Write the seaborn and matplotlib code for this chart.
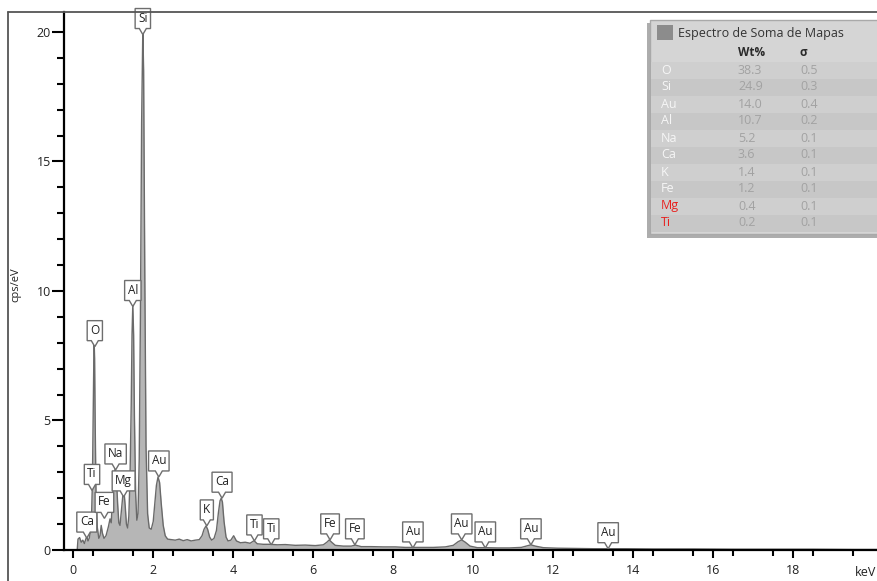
import numpy as np
import pandas as pd
import matplotlib
matplotlib.use("Agg")
import matplotlib.pyplot as plt
import seaborn as sns
import matplotlib.transforms as mtransforms
from matplotlib.patches import Rectangle, Polygon
from matplotlib.lines import Line2D
from matplotlib.ticker import FixedLocator

# ---------------- data ----------------
energy_kev = [0.10, 0.12, 0.16, 0.20, 0.24, 0.28, 0.31, 0.34, 0.37, 0.40, 0.43, 0.46, 0.48, 0.50,
              0.515, 0.525, 0.535, 0.55, 0.57, 0.60, 0.64, 0.67, 0.70, 0.73, 0.77, 0.82, 0.88,
              0.92, 0.95, 0.98, 1.02, 1.05, 1.08, 1.11, 1.14, 1.17, 1.21, 1.24, 1.27, 1.30,
              1.33, 1.36, 1.39, 1.42, 1.45, 1.47, 1.49, 1.51, 1.53, 1.56, 1.59, 1.62, 1.65,
              1.68, 1.71, 1.74, 1.76, 1.79, 1.82, 1.86, 1.90, 1.95, 2.00, 2.04, 2.08, 2.12,
              2.16, 2.20, 2.25, 2.30, 2.36, 2.45, 2.55, 2.65, 2.75, 2.85, 2.95, 3.05, 3.15,
              3.22, 3.27, 3.32, 3.36, 3.41, 3.46, 3.52, 3.58, 3.63, 3.67, 3.70, 3.73, 3.77,
              3.82, 3.87, 3.94, 4.01, 4.08, 4.18, 4.30, 4.42, 4.52, 4.60, 4.75, 4.94, 5.10,
              5.30, 5.55, 5.80, 6.05, 6.25, 6.34, 6.40, 6.46, 6.55, 6.75, 6.95, 7.05, 7.20,
              7.45, 7.75, 8.05, 8.30, 8.49, 8.70, 9.00, 9.30, 9.50, 9.62, 9.71, 9.80, 9.92,
              10.10, 10.30, 10.60, 10.90, 11.20, 11.35, 11.44, 11.55, 11.75, 12.10, 12.50,
              13.00, 13.38, 13.80, 14.50, 15.50, 16.50, 17.50, 18.50, 19.50, 20.10]
counts_cps = [0.00, 0.42, 0.48, 0.30, 0.38, 0.25, 0.40, 0.52, 0.35, 0.45, 0.70, 1.40, 2.60, 5.20,
              7.30, 7.95, 7.40, 4.80, 2.20, 0.90, 0.45, 0.55, 0.95, 0.65, 0.45, 0.55, 0.90,
              1.20, 1.05, 1.90, 2.90, 3.15, 2.80, 1.80, 1.05, 0.95, 1.60, 2.10, 2.25, 1.70,
              1.00, 0.85, 1.30, 2.80, 5.60, 8.30, 9.50, 8.30, 5.20, 2.20, 1.15, 1.40, 3.50,
              9.00, 16.50, 20.10, 18.50, 10.50, 4.00, 1.40, 0.85, 0.80, 1.10, 1.80, 2.50, 2.82,
              2.60, 1.80, 0.95, 0.55, 0.42, 0.40, 0.38, 0.42, 0.36, 0.40, 0.35, 0.38, 0.40,
              0.55, 0.80, 0.93, 0.80, 0.50, 0.38, 0.45, 0.75, 1.45, 1.90, 2.00, 1.85, 1.10,
              0.50, 0.35, 0.38, 0.55, 0.35, 0.28, 0.30, 0.26, 0.36, 0.24, 0.22, 0.22, 0.20,
              0.21, 0.18, 0.19, 0.17, 0.20, 0.30, 0.39, 0.30, 0.18, 0.15, 0.15, 0.19, 0.13,
              0.13, 0.12, 0.12, 0.10, 0.10, 0.10, 0.10, 0.12, 0.18, 0.32, 0.39, 0.30, 0.15,
              0.09, 0.09, 0.08, 0.08, 0.10, 0.16, 0.20, 0.15, 0.09, 0.07, 0.06,
              0.05, 0.05, 0.05, 0.04, 0.04, 0.03, 0.03, 0.03, 0.02, 0.02]

peak_labels = ["Ca", "Ti", "Fe", "O", "Na", "Mg", "Al", "Si", "Au", "K", "Ca", "Ti", "Ti",
               "Fe", "Fe", "Au", "Au", "Au", "Au", "Au"]
peak_energy = [0.34, 0.47, 0.78, 0.54, 1.06, 1.26, 1.49, 1.74, 2.14, 3.34, 3.72, 4.53, 4.95,
               6.42, 7.04, 8.49, 9.71, 10.30, 11.44, 13.37]
peak_tip = [0.46, 2.30, 1.22, 7.85, 3.09, 2.05, 9.40, 19.9, 2.82, 0.93, 2.00, 0.35, 0.20,
            0.39, 0.20, 0.08, 0.39, 0.08, 0.20, 0.05]

legend_title = "Espectro de Soma de Mapas"
elements = ["O", "Si", "Au", "Al", "Na", "Ca", "K", "Fe", "Mg", "Ti"]
wt_percent = ["38.3", "24.9", "14.0", "10.7", "5.2", "3.6", "1.4", "1.2", "0.4", "0.2"]
sigma = ["0.5", "0.3", "0.4", "0.2", "0.1", "0.1", "0.1", "0.1", "0.1", "0.1"]
flagged = ["Mg", "Ti"]

x_major = [0, 2, 4, 6, 8, 10, 12, 14, 16, 18]
x_minor = list(np.arange(0.5, 20.0, 1.0))
y_major = [0, 5, 10, 15, 20]
y_minor = list(range(0, 21))

# ---------------- style ----------------
sns.set_style("white")
plt.rcParams["font.family"] = ["Open Sans", "DejaVu Sans"]

W, H = 877, 581
fig = plt.figure(figsize=(W / 100, H / 100), dpi=100)
pix = mtransforms.Affine2D().scale(1, -1).translate(0, H)  # top-left pixel coords

ax = fig.add_axes([64 / W, 1 - 550 / H, (877 - 64) / W, (550 - 12) / H])
ax.set_facecolor("white")

df = pd.DataFrame({"energy": energy_kev, "cps": counts_cps})
ax.fill_between(df["energy"], 0, df["cps"], color="#b6b6b6", lw=0, zorder=1)
sns.lineplot(data=df, x="energy", y="cps", ax=ax, color="#6a6a6a", linewidth=1.0,
             sort=False, estimator=None, zorder=2)

ax.set_xlim(-0.23, 20.09)
ax.set_ylim(0, 20.77)

for s in ["top", "right"]:
    ax.spines[s].set_visible(False)
for s in ["left", "bottom"]:
    ax.spines[s].set_color("black")
    ax.spines[s].set_linewidth(1.6)

ax.xaxis.set_major_locator(FixedLocator(x_major))
ax.xaxis.set_minor_locator(FixedLocator(x_minor))
ax.yaxis.set_major_locator(FixedLocator(y_major))
ax.yaxis.set_minor_locator(FixedLocator(y_minor))
ax.tick_params(axis="x", which="major", direction="out", length=6, width=1.5, pad=4,
               labelsize=9, labelcolor="#222222", color="black", bottom=True)
ax.tick_params(axis="x", which="minor", direction="out", length=4, width=1.5,
               color="black", bottom=True)
ax.tick_params(axis="y", which="major", direction="out", length=8.5, width=1.5, pad=1,
               labelsize=9, labelcolor="#222222", color="black", left=True)
ax.tick_params(axis="y", which="minor", direction="out", length=5, width=1.5,
               color="black", left=True)
ax.grid(False)

ax.set_xlabel("")
ax.set_ylabel("cps/eV", fontsize=8, color="#222222")
ax.yaxis.set_label_coords((21 - 64) / 813, (550 - 285) / 538)

ax.text(876, 573, "keV", fontsize=9, color="#222222", ha="right", va="center",
        transform=pix, clip_on=False)

# ---------------- peak callouts ----------------
renderer = fig.canvas.get_renderer()
ident = mtransforms.IdentityTransform()
for name, e, tip in zip(peak_labels, peak_energy, peak_tip):
    px, py = ax.transData.transform((e, tip))
    gap, bh = 6.0, 20.0
    t = ax.text(px, py + gap + bh / 2 + 0.5, name, transform=ident, ha="center", va="center",
                fontsize=8.5, color="#222222", zorder=7, clip_on=False)
    tw = t.get_window_extent(renderer).width
    bw = tw + 6
    verts = [(px - bw / 2, py + gap), (px - 3.5, py + gap), (px, py), (px + 3.5, py + gap),
             (px + bw / 2, py + gap), (px + bw / 2, py + gap + bh), (px - bw / 2, py + gap + bh)]
    poly = Polygon(verts, closed=True, transform=ident, facecolor="white", edgecolor="#6e6e6e",
                   linewidth=1.0, zorder=6, clip_on=False)
    ax.add_artist(poly)

# ---------------- outer frame ----------------
fig.add_artist(Line2D([8, 877], [12, 12], transform=pix, color="#555555", lw=1.3))
fig.add_artist(Line2D([8, 8], [12, 581], transform=pix, color="#555555", lw=1.3))

# ---------------- legend panel ----------------
fig.add_artist(Rectangle((647, 23), 240, 215, transform=pix, facecolor="#8a8a8a",
                         edgecolor="none", alpha=0.7, zorder=10))
fig.add_artist(Rectangle((650, 20), 240, 214, transform=pix, facecolor="#d5d5d5",
                         edgecolor="#a9a9a9", lw=1.0, zorder=11))
for i in range(len(elements)):
    band = "#cfcfcf" if i % 2 == 0 else "#c7c7c7"
    fig.add_artist(Rectangle((651, 61.5 + 17 * i), 238, 17, transform=pix, facecolor=band,
                             edgecolor="none", zorder=12))
fig.add_artist(Rectangle((657, 25), 16, 15, transform=pix, facecolor="#8c8c8c",
                         edgecolor="none", zorder=13))
fig.text(678, 33, legend_title, transform=pix, fontsize=9, color="#333333",
         ha="left", va="center", zorder=13)
fig.text(738, 53, "Wt%", transform=pix, fontsize=8.5, fontweight="bold", color="#2a2a2a",
         ha="left", va="center", zorder=13)
fig.text(800, 53, "σ", transform=pix, fontsize=8.5, fontweight="bold", color="#2a2a2a",
         ha="left", va="center", zorder=13)
for i, (el, w, s) in enumerate(zip(elements, wt_percent, sigma)):
    yy = 70 + 17 * i
    fig.text(661, yy, el, transform=pix, fontsize=9,
             color="#e8201e" if el in flagged else "#f6f6f6", ha="left", va="center", zorder=13)
    fig.text(738, yy, w, transform=pix, fontsize=9, color="#a2a2a2",
             ha="left", va="center", zorder=13)
    fig.text(800, yy, s, transform=pix, fontsize=9, color="#a2a2a2",
             ha="left", va="center", zorder=13)

fig.savefig("out.png", dpi=100)
